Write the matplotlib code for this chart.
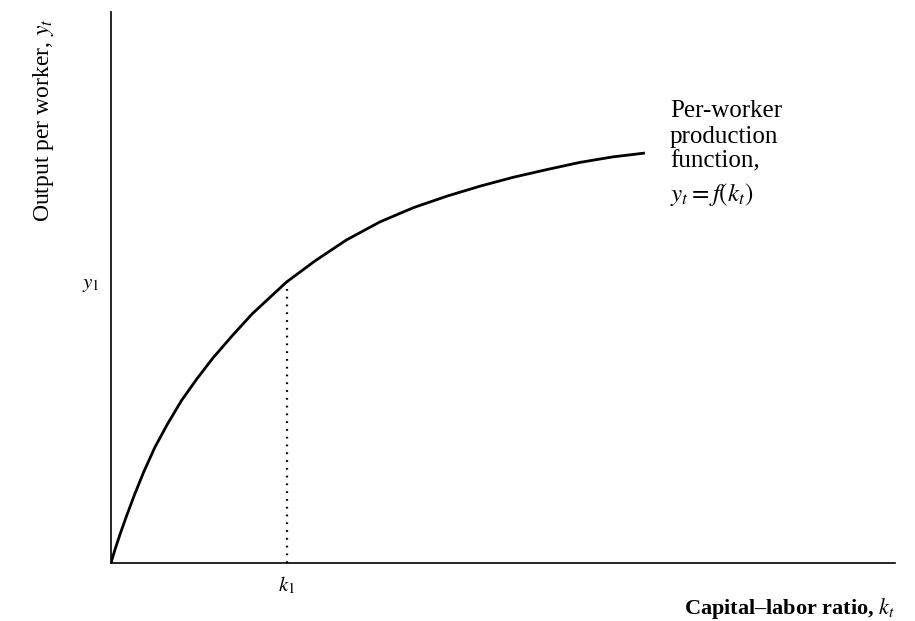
import matplotlib as mpl
import matplotlib.pyplot as plt
import numpy as np

mpl.rcParams['font.family'] = ['Liberation Serif', 'DejaVu Serif']
mpl.rcParams['mathtext.fontset'] = 'stix'

# per-worker production function (k, y)
k_vals = [0.0, 0.05, 0.12, 0.20, 0.30, 0.42, 0.56, 0.72, 0.90, 1.10, 1.30,
          1.55, 1.80, 2.05, 2.24, 2.60, 3.00, 3.43, 3.86, 4.29, 4.71, 5.13,
          5.56, 5.98, 6.40, 6.81]
y_vals = [0.0, 0.24, 0.54, 0.86, 1.24, 1.66, 2.10, 2.52, 2.95, 3.35, 3.72,
          4.13, 4.52, 4.85, 5.10, 5.48, 5.86, 6.19, 6.45, 6.66, 6.84, 7.00,
          7.14, 7.27, 7.37, 7.44]

k1 = 2.24
y1 = 5.10

fig = plt.figure(figsize=(9.15, 6.21), dpi=100)
ax = fig.add_axes([0.1213, 0.0934, 0.8568, 0.8873])

ax.plot(k_vals, y_vals, color='black', lw=2.0, solid_capstyle='butt')
ax.plot([k1, k1], [0, y1], color='black', lw=1.6, linestyle=(0, (0.8, 2.7)))

ax.set_xlim(0, 10)
ax.set_ylim(0, 10)
for s in ['top', 'right']:
    ax.spines[s].set_visible(False)
ax.spines['left'].set_linewidth(1.2)
ax.spines['bottom'].set_linewidth(1.2)

ax.set_xticks([k1])
ax.set_xticklabels(['$k_1$'], fontsize=15)
ax.set_yticks([y1])
ax.set_yticklabels(['$y_1$'], fontsize=15)
ax.tick_params(length=0, pad=8)

ax.text(7.13, 8.40, 'Per-worker\nproduction\nfunction,', fontsize=18,
        va='top', ha='left', linespacing=1.2)
ax.text(7.13, (563 - 201) / 55.1, '$y_t = f(k_t)$', fontsize=18,
        va='baseline', ha='left')

fig.text(895 / 915, 1 - 614 / 621, 'Capital–labor ratio, $k_t$', fontsize=16,
         fontweight='bold', ha='right', va='baseline')
fig.text(44 / 915, 1 - 120 / 621, 'Output per worker, $y_t$', fontsize=17,
         rotation=90, ha='center', va='center')

fig.savefig('out.png', dpi=100)
